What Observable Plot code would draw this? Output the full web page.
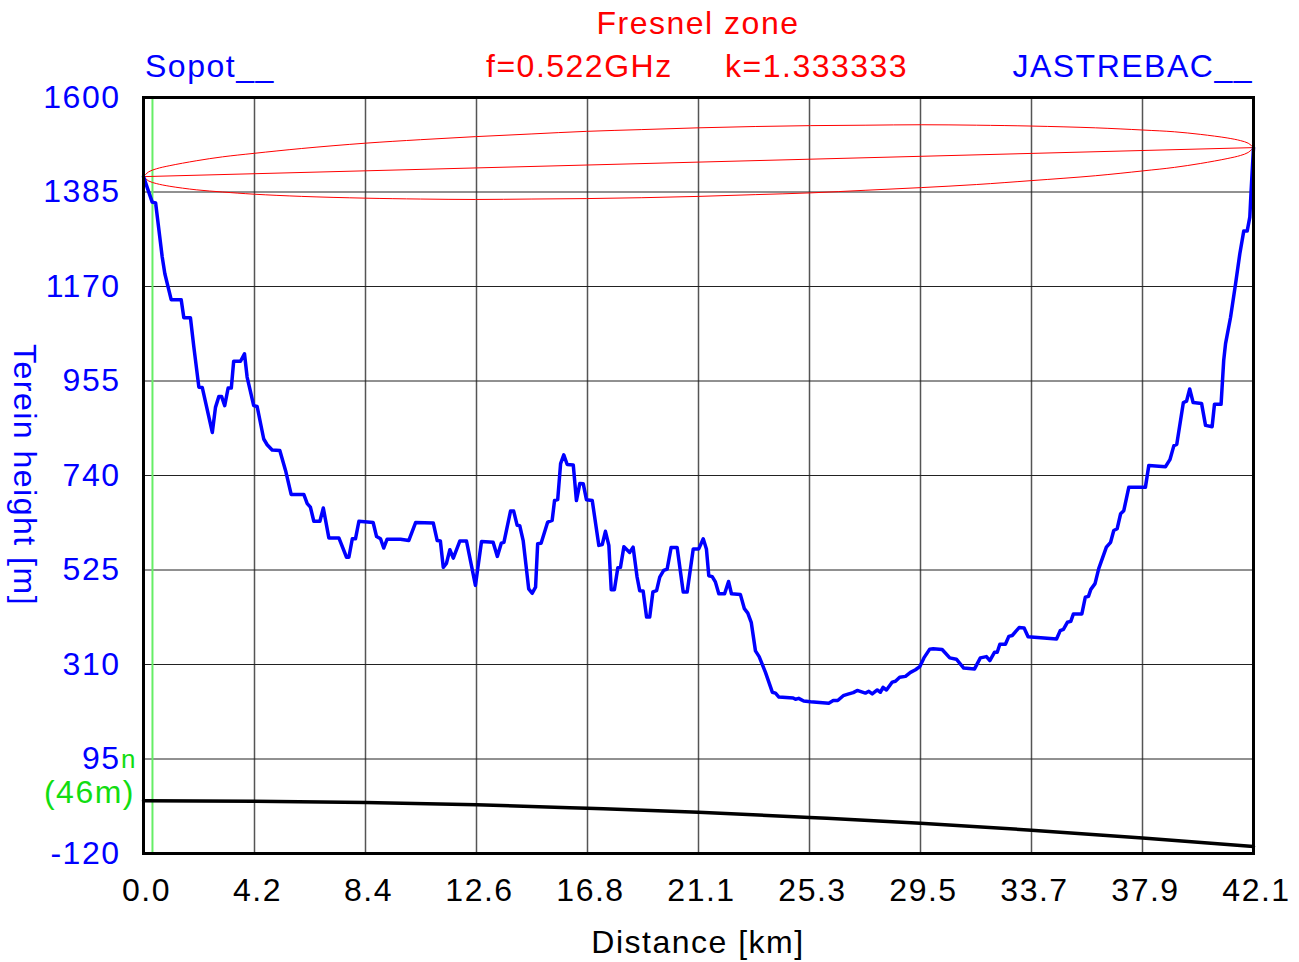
<!DOCTYPE html>
<html><head><meta charset="utf-8">
<script src="https://cdn.jsdelivr.net/npm/d3@7"></script>
<script src="https://cdn.jsdelivr.net/npm/@observablehq/plot@0.6"></script>
<style>
html,body{margin:0;padding:0;background:#fff;}
#wrap{position:relative;width:1299px;height:962px;overflow:hidden;font-family:"Liberation Sans",Arial,Helvetica,sans-serif;}
#chart{position:absolute;left:0;top:0;}
.t{position:absolute;font-size:32px;letter-spacing:1.5px;white-space:nowrap;line-height:1;}
#chart svg text{letter-spacing:1.5px;}
</style></head><body>
<div id="wrap">
<div id="chart"></div>
<div class="t" style="left:698px;top:23px;transform:translate(-50%,-50%);color:#ff0000">Fresnel zone</div>
<div class="t" style="left:145px;top:66px;transform:translateY(-50%);color:#0000ff">Sopot__</div>
<div class="t" style="left:486px;top:66px;transform:translateY(-50%);color:#ff0000">f=0.522GHz</div>
<div class="t" style="left:725px;top:66px;transform:translateY(-50%);color:#ff0000">k=1.333333</div>
<div class="t" style="right:46px;top:66px;transform:translateY(-50%);color:#0000ff">JASTREBAC__</div>
<div class="t" style="left:698px;top:942px;transform:translate(-50%,-50%);color:#000">Distance [km]</div>
<div class="t" style="left:25px;top:475px;transform:translate(-50%,-50%) rotate(90deg);color:#0000ff">Terein height [m]</div>
<div class="t" style="right:1164px;top:792px;transform:translateY(-50%);color:#11dd11">(46m)</div>
<div class="t" style="left:121px;top:759px;font-size:26px;letter-spacing:0;transform:translateY(-50%);color:#11dd11">n</div>
</div>
<script>
// Axis ticks
const xTicks = [0, 4.21, 8.42, 12.63, 16.84, 21.05, 25.26, 29.47, 33.68, 37.89, 42.1];
const xTickLabels = ["0.0", "4.2", "8.4", "12.6", "16.8", "21.1", "25.3", "29.5", "33.7", "37.9", "42.1"];
const yTicks = [1600, 1385, 1170, 955, 740, 525, 310, 95, -120];

// Terrain profile (km, m)
const profileDist = [0, 0.33, 0.46, 0.71, 0.81, 1.05, 1.43, 1.53, 1.78, 1.91,
  2.10, 2.23, 2.61, 2.73, 2.86, 2.96, 3.08, 3.21, 3.33, 3.42,
  3.68, 3.83, 3.93, 4.18, 4.31, 4.56, 4.69, 4.88, 5.17, 5.39,
  5.60, 6.08, 6.21, 6.33, 6.46, 6.69, 6.82, 7.03, 7.41, 7.70,
  7.79, 7.92, 8.04, 8.17, 8.71, 8.84, 8.99, 9.11, 9.24, 9.75,
  10.06, 10.32, 10.99, 11.14, 11.26, 11.37, 11.49, 11.62, 11.75, 12.00,
  12.25, 12.59, 12.82, 13.26, 13.42, 13.57, 13.67, 13.92, 14.04, 14.17,
  14.27, 14.40, 14.61, 14.74, 14.87, 14.95, 15.08, 15.33, 15.50, 15.59,
  15.71, 15.82, 15.94, 16.07, 16.30, 16.42, 16.55, 16.68, 16.80, 17.02,
  17.27, 17.40, 17.52, 17.65, 17.74, 17.86, 17.99, 18.09, 18.22, 18.44,
  18.57, 18.72, 18.82, 18.95, 19.08, 19.20, 19.32, 19.46, 19.58, 19.73,
  19.86, 20.01, 20.24, 20.47, 20.62, 20.85, 21.06, 21.23, 21.35, 21.44,
  21.57, 21.69, 21.82, 22.04, 22.19, 22.30, 22.64, 22.79, 22.92, 23.05,
  23.21, 23.35, 23.59, 23.85, 23.97, 24.10, 24.64, 24.73, 24.85, 25.04,
  25.30, 25.99, 26.16, 26.33, 26.54, 26.75, 26.92, 27.07, 27.38, 27.51,
  27.64, 27.83, 27.95, 28.05, 28.18, 28.40, 28.52, 28.68, 28.90, 29.09,
  29.28, 29.44, 29.60, 29.82, 29.95, 30.29, 30.58, 30.83, 31.11, 31.52,
  31.74, 31.97, 32.10, 32.28, 32.38, 32.48, 32.69, 32.82, 32.95, 33.21,
  33.40, 33.55, 34.63, 34.77, 34.89, 35.04, 35.17, 35.27, 35.59, 35.72,
  35.84, 35.93, 36.09, 36.23, 36.52, 36.68, 36.80, 36.93, 37.06, 37.18,
  37.37, 38.00, 38.13, 38.76, 38.93, 39.08, 39.19, 39.44, 39.56, 39.68,
  39.81, 40.13, 40.28, 40.53, 40.62, 40.87, 40.97, 41.04, 41.23, 41.42,
  41.58, 41.73, 41.86, 41.96, 42.01, 42.10];
const profileHeight = [1420, 1362, 1360, 1237, 1199, 1140, 1140, 1099, 1099, 1032,
  941, 940, 838, 895, 920, 920, 899, 939, 939, 1000,
  1000, 1017, 964, 899, 897, 823, 810, 798, 797, 751,
  697, 697, 676, 668, 636, 636, 666, 598, 598, 554,
  554, 596, 596, 636, 633, 601, 596, 575, 595, 595,
  592, 633, 632, 592, 591, 531, 540, 571, 552, 591,
  591, 490, 590, 588, 556, 586, 588, 659, 659, 627,
  626, 592, 482, 472, 486, 585, 586, 634, 638, 683,
  685, 767, 787, 765, 764, 683, 722, 721, 685, 683,
  581, 583, 613, 581, 480, 480, 530, 531, 578, 565,
  577, 509, 478, 477, 418, 418, 475, 478, 509, 524,
  527, 576, 576, 475, 475, 573, 573, 596, 573, 512,
  510, 498, 471, 471, 499, 471, 469, 437, 427, 406,
  341, 328, 292, 247, 245, 236, 234, 231, 233, 227,
  225, 222, 228, 228, 239, 243, 246, 251, 245, 249,
  243, 252, 247, 258, 252, 270, 272, 281, 283, 292,
  298, 305, 325, 345, 346, 344, 325, 322, 302, 300,
  325, 328, 319, 338, 338, 356, 356, 374, 376, 394,
  393, 373, 368, 387, 390, 406, 408, 425, 425, 463,
  465, 481, 494, 528, 577, 588, 615, 619, 653, 660,
  713, 713, 763, 760, 776, 808, 811, 906, 909, 937,
  906, 904, 854, 851, 902, 902, 1002, 1040, 1100, 1176,
  1244, 1296, 1296, 1328, 1388, 1486];

// Fresnel zone ellipse (km, m)
const fresnelDist = [0, 0.2, 0.5, 1, 2, 3, 4.2, 6, 8.4, 10.5, 12.6, 14.7, 16.8, 18.9, 21.05,
  23.2, 25.3, 27.4, 29.5, 31.6, 33.7, 36.1, 37.9, 39.1, 40.1, 41.1, 41.6, 41.9, 42.1];
const fresnelUpper = [1420, 1431, 1438, 1445, 1456, 1465, 1473, 1484, 1496, 1504, 1511, 1517, 1523, 1527, 1531,
  1534, 1536, 1537, 1538, 1537, 1535, 1531, 1526, 1522, 1516, 1508, 1502, 1496, 1486];
const fresnelLower = [1420, 1410, 1404, 1398, 1390, 1385, 1380, 1375, 1371, 1369, 1368, 1369, 1370, 1372, 1375,
  1379, 1383, 1389, 1395, 1402, 1411, 1422, 1433, 1441, 1450, 1461, 1468, 1475, 1486];

// Line of sight
const losDist = [0, 42.1];
const losHeight = [1420, 1486];

// Earth curvature reference line
const earthDist = [0, 4.21, 8.42, 12.63, 16.84, 21.05, 25.26, 29.47, 33.68, 37.89, 42.1];
const earthHeight = [0, -1, -4, -9, -17, -26, -38, -51, -67, -85, -104];

// Antenna marker position (km)
const markerDist = [0.34];

const profile = profileDist.map((d, i) => ({d, h: profileHeight[i]}));
const fresnel = fresnelDist.map((d, i) => ({d, up: fresnelUpper[i], lo: fresnelLower[i]}));
const los = losDist.map((d, i) => ({d, h: losHeight[i]}));
const earth = earthDist.map((d, i) => ({d, h: earthHeight[i]}));

const font = '"Liberation Sans", Arial, Helvetica, sans-serif';
const chart = Plot.plot({
  width: 1299,
  height: 962,
  marginTop: 97,
  marginLeft: 143,
  marginRight: 46,
  marginBottom: 109,
  x: {domain: [0, 42.1]},
  y: {domain: [-120, 1600]},
  style: {fontFamily: font, fontSize: "32px", background: "white", overflow: "visible"},
  marks: [
    Plot.gridX(xTicks, {stroke: "#555", strokeOpacity: 1, strokeWidth: 1.5}),
    Plot.gridY(yTicks, {stroke: "#222", strokeOpacity: 1, strokeWidth: 1}),
    Plot.ruleX(markerDist, {stroke: "#66ee66", strokeWidth: 2}),
    Plot.line(fresnel, {x: "d", y: "up", stroke: "#ff0000", strokeWidth: 1, curve: "catmull-rom"}),
    Plot.line(fresnel, {x: "d", y: "lo", stroke: "#ff0000", strokeWidth: 1, curve: "catmull-rom"}),
    Plot.line(los, {x: "d", y: "h", stroke: "#ff0000", strokeWidth: 1}),
    Plot.line(earth, {x: "d", y: "h", stroke: "#000", strokeWidth: 3.5, curve: "natural"}),
    Plot.line(profile, {x: "d", y: "h", stroke: "#0000ff", strokeWidth: 3.5, strokeLinejoin: "round"}),
    Plot.frame({stroke: "#000", strokeWidth: 3}),
    Plot.axisY({ticks: yTicks, tickSize: 0, tickPadding: 23, fill: "#0000ff", fontSize: 32, tickFormat: d => String(d), label: null}),
    Plot.axisX({ticks: xTicks, tickSize: 0, tickPadding: 25, dx: 3, fill: "#000", fontSize: 32, tickFormat: d => xTickLabels[xTicks.indexOf(d)], label: null})
  ]
});
document.getElementById("chart").appendChild(chart);
</script>
</body></html>
